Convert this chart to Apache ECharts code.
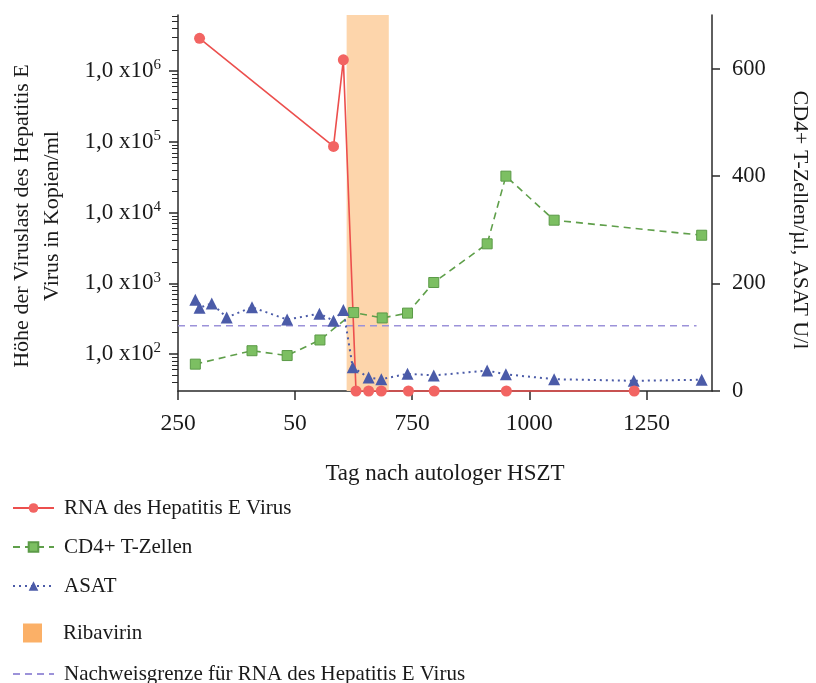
<!DOCTYPE html>
<html>
<head>
<meta charset="utf-8">
<script src="https://cdn.jsdelivr.net/npm/echarts@6/dist/echarts.min.js"></script>
<style>html,body{margin:0;padding:0;background:#fff;}#c{width:816px;height:683px;}</style>
</head>
<body>
<div id="c"></div>
<script>
// ---- data ----
const rnaDays = [296, 582, 603, 630, 657, 684, 742, 797, 951, 1224];
const rnaValues = [2.9e6, 8.6e4, 1.44e6, 30, 30, 30, 30, 30, 30, 30];

const cd4Days = [287, 408, 483, 553, 625, 686, 740, 796, 910, 950, 1053, 1368];
const cd4Values = [50, 75, 66, 95, 146, 136, 145, 202, 274, 400, 318, 290];

const asatDays = [287, 296, 322, 354, 408, 483, 552, 582, 603, 623, 657, 684, 740, 796, 910, 950, 1053, 1223, 1368];
const asatValues = [170, 155, 163, 137, 156, 133, 144, 131, 151, 44, 25, 22, 32, 29, 38, 31, 22, 19, 21];

const limitDays = [250, 1357];
const limitValues = [250, 250];

const ribavirinDays = [610, 700];

const xTickValues = [250, 500, 750, 1000, 1250];
const xTickLabels = ['250', '50', '750', '1000', '1250'];
const leftTickValues = [1e2, 1e3, 1e4, 1e5, 1e6];
const leftTickLabels = ['1,0 x10', '1,0 x10', '1,0 x10', '1,0 x10', '1,0 x10'];
const leftTickExps = ['2', '3', '4', '5', '6'];
const rightTickValues = [0, 200, 400, 600];

const names = {
  rna: 'RNA des Hepatitis E Virus',
  cd4: 'CD4+ T-Zellen',
  asat: 'ASAT',
  riba: 'Ribavirin',
  limit: 'Nachweisgrenze für RNA des Hepatitis E Virus'
};
const leftTitle = 'Höhe der Viruslast des Hepatitis E\nVirus in Kopien/ml';
const rightTitle = 'CD4+ T-Zellen/µl, ASAT U/l';
const xTitle = 'Tag nach autologer HSZT';

const LEFT_MIN = 30, LEFT_MAX = 6.2e6;
const minorTicks = [];
for (let d = 1; d <= 6; d++) {
  for (let k = 2; k <= 9; k++) {
    const v = k * Math.pow(10, d);
    if (v > LEFT_MIN && v < LEFT_MAX) minorTicks.push(v);
  }
}

const FONT = "'Liberation Serif', 'Times New Roman', serif";
const TXT = '#1a1a1a';
const AX = '#2a2a2a';

const zip = (a, b) => a.map((x, i) => [x, b[i]]);

const chart = echarts.init(document.getElementById('c'), null, {renderer: 'canvas'});
chart.setOption({
  animation: false,
  backgroundColor: '#fff',
  textStyle: {fontFamily: FONT, color: TXT},
  grid: {left: 178, right: 104, top: 15, bottom: 292, containLabel: false, outerBoundsMode: 'none'},
  graphic: [
    {
      type: 'text', x: 37, y: 216, rotation: Math.PI / 2, silent: true,
      style: {text: leftTitle, fontFamily: FONT, fontSize: 22, lineHeight: 30, fill: TXT, align: 'center', verticalAlign: 'middle'}
    },
    {
      type: 'text', x: 800, y: 220, rotation: -Math.PI / 2, silent: true,
      style: {text: rightTitle, fontFamily: FONT, fontSize: 22, fill: TXT, align: 'center', verticalAlign: 'middle'}
    }
  ],
  xAxis: {
    type: 'value', min: 250, max: 1390,
    name: xTitle, nameLocation: 'middle', nameGap: 71,
    nameTextStyle: {fontFamily: FONT, fontSize: 23, color: TXT},
    axisLine: {lineStyle: {color: AX, width: 1.5}},
    axisTick: {customValues: xTickValues, length: 9, lineStyle: {color: AX, width: 1.5}},
    axisLabel: {
      customValues: xTickValues, margin: 21,
      fontFamily: FONT, fontSize: 23.5, color: TXT,
      formatter: v => { const i = xTickValues.indexOf(Math.round(v)); return i >= 0 ? xTickLabels[i] : ''; }
    },
    splitLine: {show: false}
  },
  yAxis: [
    {
      type: 'log', min: LEFT_MIN, max: LEFT_MAX, position: 'left',
      axisLine: {show: true, lineStyle: {color: AX, width: 1.5}},
      axisTick: {customValues: leftTickValues, length: 9, lineStyle: {color: AX, width: 1.5}},
      axisLabel: {
        customValues: leftTickValues, margin: 17,
        formatter: v => {
          const e = Math.round(Math.log10(v));
          const i = leftTickExps.indexOf(String(e));
          return i >= 0 ? '{m|' + leftTickLabels[i] + '}{s|' + leftTickExps[i] + '}' : '';
        },
        rich: {
          m: {fontFamily: FONT, fontSize: 23, color: TXT, lineHeight: 26},
          s: {fontFamily: FONT, fontSize: 15, color: TXT, verticalAlign: 'top', lineHeight: 15}
        }
      },
      splitLine: {show: false}
    },
    {
      type: 'value', min: 0, max: 700, position: 'right',
      axisLine: {show: true, lineStyle: {color: AX, width: 1.5}},
      axisTick: {customValues: rightTickValues, length: 8, lineStyle: {color: AX, width: 1.5}},
      axisLabel: {customValues: rightTickValues, margin: 20, fontFamily: FONT, fontSize: 22.5, color: TXT},
      splitLine: {show: false}
    },
    {
      type: 'log', min: LEFT_MIN, max: LEFT_MAX, position: 'left',
      axisLine: {show: false},
      axisTick: {customValues: minorTicks, length: 6, lineStyle: {color: AX, width: 1}},
      axisLabel: {show: false},
      splitLine: {show: false}
    }
  ],
  legend: [
    {
      orient: 'vertical', left: 12, top: 496, padding: 0, itemWidth: 41, itemHeight: 12, itemGap: 15,
      selectedMode: false,
      textStyle: {fontFamily: FONT, fontSize: 21, color: TXT, lineHeight: 24, padding: [0, 0, 0, 5]},
      data: [names.rna, names.cd4, names.asat]
    },
    {
      orient: 'vertical', left: 23, top: 621, padding: 0, itemWidth: 19, itemHeight: 19,
      selectedMode: false,
      textStyle: {fontFamily: FONT, fontSize: 21, color: TXT, lineHeight: 24, padding: [0, 0, 0, 16]},
      data: [{name: names.riba, icon: 'rect'}]
    },
    {
      orient: 'vertical', left: 12, top: 662, padding: 0, itemWidth: 41, itemHeight: 12,
      selectedMode: false,
      textStyle: {fontFamily: FONT, fontSize: 21, color: TXT, lineHeight: 24, padding: [0, 0, 0, 5]},
      data: [{name: names.limit, itemStyle: {opacity: 0}}]
    }
  ],
  series: [
    {
      name: names.riba, type: 'line', yAxisIndex: 1, data: [],
      itemStyle: {color: '#fbb067'}, lineStyle: {color: '#fbb067'},
      markArea: {
        silent: true,
        itemStyle: {color: '#fdd5ab'},
        data: [[{xAxis: ribavirinDays[0], yAxis: 'max'}, {xAxis: ribavirinDays[1], yAxis: 'min'}]]
      }
    },
    {
      name: names.limit, type: 'line', yAxisIndex: 0, data: zip(limitDays, limitValues),
      symbol: 'none', silent: true,
      itemStyle: {color: '#9c92d9'},
      lineStyle: {color: '#9c92d9', width: 1.5, type: [7, 5]}
    },
    {
      name: names.cd4, type: 'line', yAxisIndex: 1, data: zip(cd4Days, cd4Values),
      symbol: 'rect', symbolSize: 10, clip: false,
      itemStyle: {color: '#7cbf62', borderColor: '#5b9a47', borderWidth: 1},
      lineStyle: {color: '#5f9f4a', width: 1.6, type: [7, 5]}
    },
    {
      name: names.asat, type: 'line', yAxisIndex: 1, data: zip(asatDays, asatValues),
      symbol: 'triangle', symbolSize: 12, clip: false,
      itemStyle: {color: '#4b5ba8'},
      lineStyle: {color: '#4b5ba8', width: 2, type: [2, 4]}
    },
    {
      name: names.rna, type: 'line', yAxisIndex: 0, data: zip(rnaDays, rnaValues),
      symbol: 'circle', symbolSize: 11, clip: false,
      itemStyle: {color: '#f26462'},
      lineStyle: {color: '#ec4f4d', width: 1.6}
    }
  ]
});
</script>
</body>
</html>
